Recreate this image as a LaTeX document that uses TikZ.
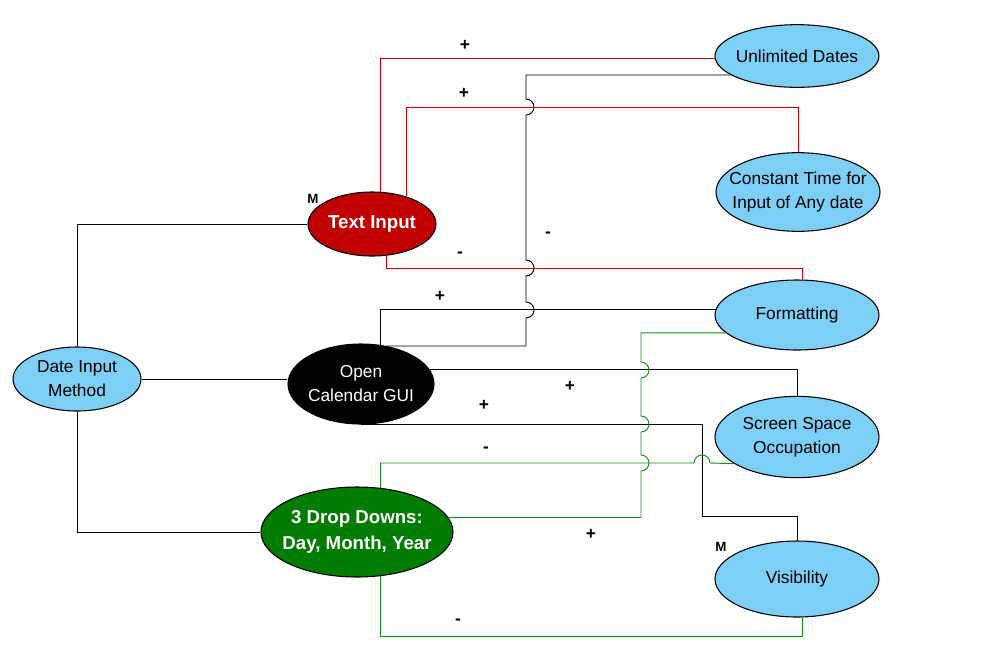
\documentclass[tikz,border=0pt]{standalone}
\usepackage{fontspec}
\setmainfont{Liberation Sans}
\usepackage{xcolor}
\usepackage{tikz}
\usetikzlibrary{shapes.geometric}

\definecolor{skyfill}{RGB}{125,207,245}
\definecolor{textred}{RGB}{192,0,0}
\definecolor{dropgreen}{RGB}{0,125,0}
\definecolor{redwire}{RGB}{210,0,0}
\definecolor{greenwire}{RGB}{20,140,20}

\begin{document}
\begin{tikzpicture}[
    x=0.75pt, y=-0.75pt,
    font=\fontsize{13}{18}\selectfont,
    oval/.style={draw, ellipse, line width=0.8pt, inner sep=-10pt, align=center},
    goal/.style={oval, fill=skyfill, minimum width=123pt},
    choice/.style={oval, text=white},
    boldtext/.style={font=\fontsize{14}{19}\selectfont\bfseries},
    link/.style={line width=0.7pt},
    redlink/.style={link, draw=redwire},
    greenlink/.style={link, draw=greenwire},
    sign/.style={font=\fontsize{13}{13}\selectfont\bfseries},
    mtag/.style={font=\fontsize{10}{10}\selectfont\bfseries}
]
\useasboundingbox (0,0) rectangle (983,658);

% criteria on the right
\node[goal, minimum height=47pt] (ud) at (797,56) {Unlimited Dates};
\node[goal, minimum height=59pt] (ct) at (798,192) {Constant Time for\\Input of Any date};
\node[goal, minimum height=52.5pt] (fm) at (797,315) {Formatting};
\node[goal, minimum height=61pt] (ss) at (797,437) {Screen Space\\Occupation};
\node[goal, minimum height=57pt] (vis) at (797,579) {Visibility};

% method and options
\node[goal, minimum width=96pt, minimum height=48pt] (dim) at (77,379) {Date Input\\Method};
\node[choice, boldtext, fill=textred, minimum width=96pt, minimum height=48pt] (ti) at (372,224) {Text Input};
\node[choice, fill=black, minimum width=109.5pt, minimum height=60pt] (ocg) at (361,384) {Open\\Calendar GUI};
\node[choice, boldtext, fill=dropgreen, minimum width=144pt, minimum height=67.5pt] (ddd) at (357,532) {3 Drop Downs:\\Day, Month, Year};

\node[mtag] (mti) at (313,199) {M};
\node[mtag] (mvis) at (721,547) {M};

% method to options
\draw[link] (dim.north) |- (ti.west);
\draw[link] (dim.east) -- (dim.east -| ocg.west);
\draw[link] (dim.south) |- (ddd.west);

% text input
\draw[redlink] (ti.76) |- (ud.182);
\draw[redlink] (ti.39) -- (ti.39 |- 0,107) -| (ct.north);
\draw[redlink] (ti.295) -- (ti.295 |- 0,268) -| (fm.82);

% calendar
\draw[link] (ocg.64) |- (fm.176);
\draw[link] (ocg.56) -- (ocg.56 -| 526,0) -- (526,318) arc (90:-90:8)
    -- (526,276) arc (90:-90:8) -- (526,115) arc (90:-90:8) |- (ud.196);
\draw[link] (ocg.12) -| (ss.north);
\draw[link] (ocg.south) -| (702,516) -| (vis.north);

% drop downs
\draw[greenlink] (ddd.62) -- (ddd.62 |- 0,463) -- (694,463) arc (180:360:8) -- (ss.203);
\draw[greenlink] (ddd.9) -- (ddd.9 -| 641,0) -- (641,471) arc (90:-90:8)
    -- (641,432) arc (90:-90:8) -- (641,378) arc (90:-90:8) |- (fm.194);
\draw[greenlink] (ddd.-62) -- (ddd.-62 |- 0,636) -| (vis.-82);

% signs
\node[sign] (sud) at (465,45) {+};
\node[sign] (sct) at (464,93) {+};
\node[sign] (sfm) at (460,255) {-};
\node[sign] (soud) at (548,235) {-};
\node[sign] (sofm) at (440,296) {+};
\node[sign] (soss) at (570,386) {+};
\node[sign] (sovis) at (484,405) {+};
\node[sign] (sdss) at (486,450) {-};
\node[sign] (sdfm) at (591,534) {+};
\node[sign] (sdvis) at (458,622) {-};
\end{tikzpicture}
\end{document}
